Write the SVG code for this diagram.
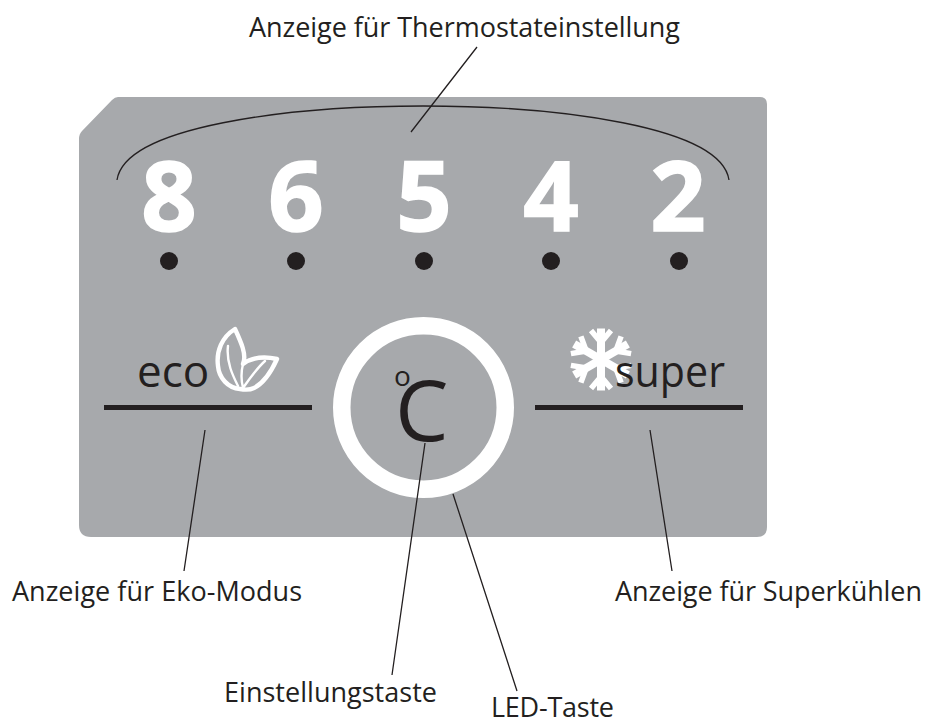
<svg xmlns="http://www.w3.org/2000/svg" width="926" height="719" viewBox="0 0 926 719">
<style>
.lbl{font-family:"Open Sans","Noto Sans",sans-serif;font-size:27px;fill:#231f20}
.dig{font-family:"Open Sans","Noto Sans",sans-serif;font-size:97px;font-weight:700;fill:#fff;stroke:#fff;stroke-width:1.6;text-anchor:middle}
.dot{fill:#231f20}
.bar{fill:#231f20}
.ln{fill:none;stroke:#231f20;stroke-width:1.3}
.word{font-family:"Open Sans","Noto Sans",sans-serif;font-size:44px;fill:#231f20}
.sym{font-family:"Open Sans","Noto Sans",sans-serif;fill:#231f20}
.leaf{fill:none;stroke:#fff;stroke-linejoin:round;stroke-linecap:round}
.arm{fill:none;stroke:#fff}
</style>
<defs>
<g id="arm">
<path stroke-width="8" d="M0 0V-31"/>
<path stroke-width="5.500" d="M-10-29L0-17L10-29"/>
</g>
</defs>
<rect width="926" height="719" fill="#fff"/>
<g id="panel"><path d="M118 97H760Q767 97 767 104V527Q767 537 757 537H91Q79 537 79 525V139Q79 134 82 131L112 100Q115 97 118 97Z" fill="#a7a9ac"/></g>
<g id="scale">
<path class="ln" d="M117 180C125 126 290 106 423 106C556 106 721 126 729 180"/>
<text class="dig" x="169" y="231">8</text>
<text class="dig" x="296" y="231">6</text>
<text class="dig" x="424" y="231">5</text>
<text class="dig" x="551" y="231">4</text>
<text class="dig" x="678" y="231">2</text>
<circle class="dot" cx="169" cy="261" r="9"/>
<circle class="dot" cx="296" cy="261" r="9"/>
<circle class="dot" cx="424" cy="261" r="9"/>
<circle class="dot" cx="551" cy="261" r="9"/>
<circle class="dot" cx="679" cy="261" r="9"/>
</g>
<g id="eco">
<text class="word" x="137" y="387">eco</text>
<path class="leaf" stroke-width="4.400" d="M235 329C222 337 216 351 218 366C219 378 228 388 240 389C245 390 250 390 254 388C264 383 272 370 277 359C268 357 254 356 243 364C247 355 241 342 235 329Z"/>
<path class="leaf" stroke-width="2.400" d="M228 346C226 362 233 376 238 386M243 364C241 372 241 380 243 388M243 388C250 378 257 368 265 361"/>
<rect class="bar" x="104" y="405" width="208" height="5"/>
</g>
<g id="button">
<circle cx="423.500" cy="407.500" r="81.750" fill="none" stroke="#fff" stroke-width="17.500"/>
<text class="sym" x="394" y="385.500" font-size="28">o</text>
<text class="sym" x="395" y="441" font-size="85">C</text>
</g>
<g id="super">
<g class="arm" transform="translate(601 359.500)">
<use href="#arm"/>
<use href="#arm" transform="rotate(60)"/>
<use href="#arm" transform="rotate(120)"/>
<use href="#arm" transform="rotate(180)"/>
<use href="#arm" transform="rotate(240)"/>
<use href="#arm" transform="rotate(300)"/>
</g>
<text class="word" x="615" y="387" textLength="110" lengthAdjust="spacingAndGlyphs">super</text>
<rect class="bar" x="535" y="405" width="208" height="5"/>
</g>
<g id="connectors">
<path class="ln" d="M477 47L411 132M205 430L184 571M650 430L672 571M425 443L392 675M453 494L517 691"/>
</g>
<g id="labels">
<text class="lbl" x="249" y="37" textLength="431">Anzeige für Thermostateinstellung</text>
<text class="lbl" x="12" y="601" textLength="290">Anzeige für Eko-Modus</text>
<text class="lbl" x="615" y="601" textLength="307">Anzeige für Superkühlen</text>
<text class="lbl" x="224" y="702" textLength="213">Einstellungstaste</text>
<text class="lbl" x="491" y="717" textLength="123">LED-Taste</text>
</g>
</svg>
